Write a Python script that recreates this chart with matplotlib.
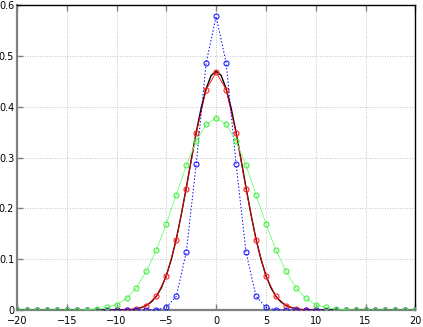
import numpy as np
import matplotlib
matplotlib.use("Agg")
import matplotlib.pyplot as plt

# integer grid for the sampled series
X = list(range(-20, 21))

# red: discrete solution
RED_HALF = [0.468, 0.434, 0.348, 0.239, 0.138, 0.066, 0.027, 0.0085, 0.002, 0.0005]
# blue: narrower peak
BLUE_HALF = [0.578, 0.487, 0.288, 0.114, 0.027, 0.005, 0.0005]
# green: wider peak
GREEN_HALF = [0.378, 0.366, 0.332, 0.285, 0.227, 0.170, 0.118, 0.077, 0.044, 0.023,
              0.0105, 0.005, 0.002, 0.0007]

# black: continuous curve read at half steps from 0 to 9
BLACK_X_HALF = [0, 0.5, 1, 1.5, 2, 2.5, 3, 3.5, 4, 4.5, 5, 5.5, 6, 6.5, 7, 7.5, 8, 8.5, 9, 20]
BLACK_Y_HALF = [0.47, 0.462, 0.436, 0.398, 0.35, 0.296, 0.241, 0.188, 0.140, 0.100,
                0.068, 0.044, 0.027, 0.016, 0.009, 0.005, 0.0025, 0.001, 0.0005, 0.0]


def mirror(half):
    full = [0.0] * 41
    for i, v in enumerate(half):
        full[20 + i] = v
        full[20 - i] = v
    return full


red = mirror(RED_HALF)
blue = mirror(BLUE_HALF)
green = mirror(GREEN_HALF)
bx = [-v for v in BLACK_X_HALF[:0:-1]] + BLACK_X_HALF
by = BLACK_Y_HALF[:0:-1] + BLACK_Y_HALF

fig = plt.figure(figsize=(4.23, 3.27), dpi=100)
ax = fig.add_axes([0.0402, 0.052, 0.9416, 0.9318])

mk = dict(marker="o", markersize=3.6, markerfacecolor="none", markeredgewidth=0.8)
ax.plot(bx, by, color="black", linewidth=1.0, zorder=3)
ax.plot(X, red, color="#ff0000", linewidth=0.6, markeredgecolor="#ff2020", zorder=4, **mk)
ax.plot(X, blue, color="#0000ff", linewidth=0.7, linestyle=(0, (1.5, 2)),
        markeredgecolor="#2020ff", zorder=5, **mk)
ax.plot(X, green, color="#70ff70", linewidth=0.6, markeredgecolor="#44ee44", zorder=6, **mk)

ax.set_xlim(-20, 20)
ax.set_ylim(0, 0.6)
ax.set_xticks(range(-20, 21, 5))
ax.set_yticks([0, 0.1, 0.2, 0.3, 0.4, 0.5, 0.6])
ax.set_yticklabels(["0", "0.1", "0.2", "0.3", "0.4", "0.5", "0.6"])
ax.grid(True, color="#b0b0b0", linestyle=(0, (1, 2)), linewidth=0.6)
ax.set_axisbelow(True)

ax.tick_params(direction="in", length=4, width=1, colors="#808080", labelcolor="black",
               labelsize=7, pad=2, top=True, right=False)
ax.tick_params(axis="x", pad=4)

for side in ("left", "bottom"):
    ax.spines[side].set_color("#808080")
    ax.spines[side].set_linewidth(1.6)
for side in ("top", "right"):
    ax.spines[side].set_color("black")
    ax.spines[side].set_linewidth(1.0)

fig.savefig("out.png", dpi=100)
